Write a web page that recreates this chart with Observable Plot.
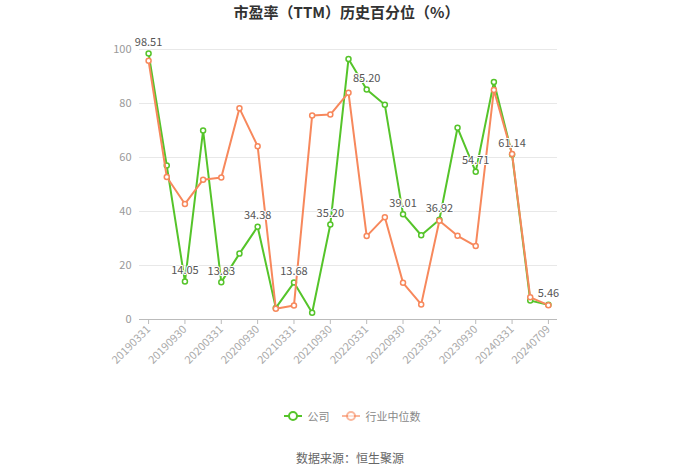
<!DOCTYPE html>
<html>
<head>
<meta charset="utf-8">
<script src="https://cdn.jsdelivr.net/npm/d3@7"></script>
<script src="https://cdn.jsdelivr.net/npm/@observablehq/plot@0.6"></script>
<style>
  html, body { margin: 0; padding: 0; background: #fff; }
  body { width: 700px; height: 474px; position: relative; font-family: "Noto Sans CJK SC", "Noto Sans", sans-serif; overflow: hidden; }
  #title { position: absolute; top: 2px; left: 0; width: 693px; text-align: center; font-size: 15px; font-weight: bold; color: #333; line-height: 20px; }
  #chart { position: absolute; top: 30px; left: 0; }
  #legend { position: absolute; top: 408px; left: 0; width: 704px; display: flex; justify-content: center; font-size: 11px; color: #888; line-height: 16px; }
  .item { display: flex; align-items: center; margin: 0 6px; }
  .item svg { margin-right: 6px; }
  #caption { position: absolute; top: 449px; left: 0; width: 700px; text-align: center; font-size: 12px; color: #666; line-height: 18px; }
</style>
</head>
<body>
<div id="title">市盈率（TTM）历史百分位（%）</div>
<div id="chart"></div>
<div id="legend"></div>
<div id="caption">数据来源：恒生聚源</div>
<script>
const dates = ["20190331","20190630","20190930","20191231","20200331","20200630","20200930","20201231",
  "20210331","20210630","20210930","20211231","20220331","20220630","20220930","20221231",
  "20230331","20230630","20230930","20231231","20240331","20240630","20240709"];
const company = [98.51, 57, 14.05, 70, 13.83, 24.4, 34.38, 4.3, 13.68, 2.5, 35.20, 96.5, 85.20, 79.5,
  39.01, 31.2, 36.92, 71, 54.71, 88, 61.14, 7, 5.46];
const industry = [95.8, 52.8, 42.8, 51.8, 52.6, 78.2, 64.2, 4.0, 5.2, 75.6, 75.9, 84, 30.9, 37.9,
  13.6, 5.6, 36.6, 31, 27.2, 85, 61.3, 8.2, 5.3];
const seriesNames = ["公司", "行业中位数"];
const colors = ["#55c42a", "#f7885c"];
const yTicks = [0, 20, 40, 60, 80, 100];

const rowsC = dates.map((d, i) => ({date: d, value: company[i], idx: i}));
const rowsI = dates.map((d, i) => ({date: d, value: industry[i], idx: i}));
const labelRows = rowsC.filter(r => r.idx % 2 === 0);
const tickDates = dates.filter((d, i) => i % 2 === 0);

const chart = Plot.plot({
  width: 700,
  height: 340,
  marginTop: 19,
  marginBottom: 51,
  marginLeft: 139,
  marginRight: 143,
  style: {fontFamily: "'Noto Sans CJK SC', 'Noto Sans', sans-serif", fontSize: "11px", color: "#999", background: "#fff"},
  x: {type: "point", domain: dates, padding: 0.5, round: false, label: null},
  y: {domain: [0, 100], label: null},
  marks: [
    Plot.ruleY(yTicks, {stroke: "#e8e8e8", strokeWidth: 1}),
    Plot.axisY({ticks: yTicks, tickSize: 0, tickPadding: 8, fill: "#999", fontSize: 11}),
    Plot.ruleY([0], {stroke: "#bbb", strokeWidth: 1}),
    Plot.axisX({ticks: tickDates, tickSize: 5, stroke: "#bbb", tickRotate: -45, tickPadding: 3, fill: "#aaa", fontSize: 11}),
    Plot.line(rowsC, {x: "date", y: "value", stroke: colors[0], strokeWidth: 2}),
    Plot.dot(rowsC, {x: "date", y: "value", r: 2.5, stroke: colors[0], strokeWidth: 1.5, fill: "#fff"}),
    Plot.line(rowsI, {x: "date", y: "value", stroke: colors[1], strokeWidth: 2}),
    Plot.dot(rowsI, {x: "date", y: "value", r: 2.5, stroke: colors[1], strokeWidth: 1.5, fill: "#fff"}),
    Plot.text(labelRows, {x: "date", y: "value", text: d => d.value.toFixed(2), dy: -11, fill: "#555", fontSize: 11, stroke: "#fff", strokeWidth: 2})
  ]
});
document.getElementById("chart").appendChild(chart);

const legend = document.getElementById("legend");
seriesNames.forEach((name, i) => {
  const item = document.createElement("div");
  item.className = "item";
  const op = i === 0 ? 1 : 0.6;
  item.innerHTML = `<svg width="18" height="12"><line x1="0" y1="6" x2="18" y2="6" stroke="${colors[i]}" stroke-width="2" opacity="${op}"/><circle cx="9" cy="6" r="4" fill="#fff" stroke="${colors[i]}" stroke-width="2" opacity="${op}"/></svg><span>${name}</span>`;
  legend.appendChild(item);
});
</script>
</body>
</html>
